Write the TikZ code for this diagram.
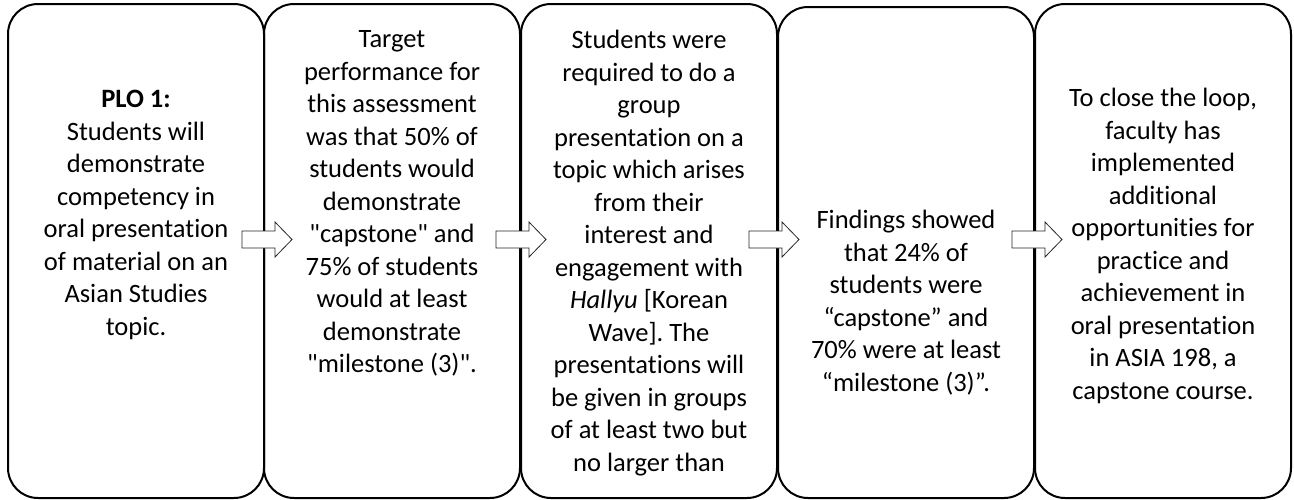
\documentclass[tikz,border=0pt]{standalone}
\usepackage{fontspec}
\setmainfont{Carlito}[Ligatures={TeXOff,NoCommon}]
\frenchspacing
\begin{document}
\begin{tikzpicture}[x=1pt,y=-1pt,
  box/.style={draw=black, line width=2pt, rounded corners=30pt, rectangle, minimum width=256pt, inner sep=0pt},
  txt/.style={font=\fontsize{26.5}{32.5}\selectfont, align=center, inner sep=0pt, anchor=north},
  blockarrow/.style={draw=black!85, line width=0.8pt, fill=white, line join=miter}]
\useasboundingbox (0,0) rectangle (1294,499);
% boxes
\node[box, minimum height=494pt] (b1) at (136,251) {};
\node[box, minimum height=494pt] (b2) at (392,251) {};
\node[box, minimum height=494pt] (b3) at (649,251) {};
\node[box, minimum height=491pt] (b4) at (906,252.5) {};
\node[box, minimum height=494pt] (b5) at (1163,251) {};
% texts
\newcommand{\fstrut}{\rule{0pt}{24pt}}
\node[txt] (t1) at (136,83.3) {\fstrut\textbf{PLO 1:}\\Students will\\demonstrate\\competency in\\oral presentation\\of material on an\\Asian Studies\\topic.};
\node[txt] (t2) at (392,23.7) {\fstrut Target\\performance for\\this assessment\\was that 50\% of\\students would\\demonstrate\\"capstone" and\\75\% of students\\would at least\\demonstrate\\"milestone (3)".};
\node[txt] (t3) at (649,24.3) {\fstrut Students were\\required to do a\\group\\presentation on a\\topic which arises\\from their\\interest and\\engagement with\\\textit{Hallyu} [Korean\\Wave]. The\\presentations will\\be given in groups\\of at least two but\\no larger than};
\node[txt] (t4) at (906,204.3) {\fstrut Findings showed\\that 24\% of\\students were\\“capstone” and\\70\% were at least\\“milestone (3)”.};
\node[txt] (t5) at (1163,82.7) {\fstrut To close the loop,\\faculty has\\implemented\\additional\\opportunities for\\practice and\\achievement in\\oral presentation\\in ASIA 198, a\\capstone course.};
% block arrows between boxes
\foreach \n/\xa in {1/242, 2/496, 3/749, 4/1012} {
  \coordinate (a\n) at (\xa,239.5);
  \draw[blockarrow] (a\n) ++(0,-8.5) -- ++(33,0) -- ++(0,-9) -- ++(17,17.5) -- ++(-17,17.5) -- ++(0,-9) -- ++(-33,0) -- cycle;
}
\end{tikzpicture}
\end{document}
